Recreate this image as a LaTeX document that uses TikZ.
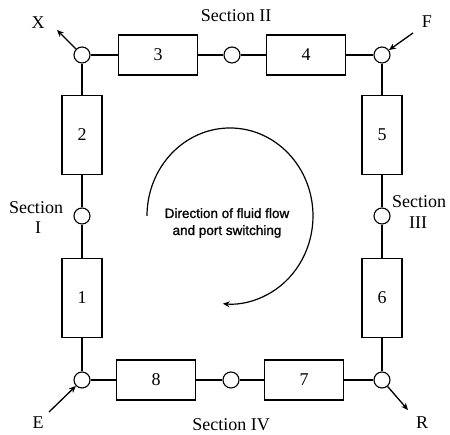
\documentclass[tikz,border=0pt]{standalone}
\usepackage{fontspec}
\setmainfont{Liberation Serif}
\newfontfamily\flowfont[FakeBold=1.2]{Liberation Sans}
\usetikzlibrary{arrows.meta}
\begin{document}
\begin{tikzpicture}[x=1pt,y=1pt,line width=1.1pt,
  port/.style={circle,draw,minimum size=16pt,inner sep=0pt},
  hbox/.style={rectangle,draw,minimum width=79pt,minimum height=40pt,inner sep=0pt,font=\fontsize{18}{20}\selectfont},
  vbox/.style={rectangle,draw,minimum width=40pt,minimum height=79pt,inner sep=0pt,font=\fontsize{18}{20}\selectfont},
  lab/.style={font=\fontsize{18}{20}\selectfont,inner sep=0pt},
  portarrow/.style={-{Stealth[length=7pt,width=6pt]},line width=1.3pt}]
\useasboundingbox (0,0) rectangle (450,435);
% ports
\node[port] (tl) at (82,380) {};
\node[port] (tm) at (232,380) {};
\node[port] (tr) at (382,380) {};
\node[port] (ml) at (82,219) {};
\node[port] (mr) at (382,219) {};
\node[port] (bl) at (82,55) {};
\node[port] (bm) at (231,55) {};
\node[port] (br) at (382,55) {};
% columns
\node[hbox] (b3) at (158,380) {3};
\node[hbox] (b4) at (306,380) {4};
\node[vbox] (b5) at (382,300) {5};
\node[vbox] (b6) at (382,137) {6};
\node[hbox] (b7) at (304,55) {7};
\node[hbox] (b8) at (156,55) {8};
\node[vbox] (b1) at (82,137) {1};
\node[vbox] (b2) at (82,300) {2};
% connections
\draw (tl) -- (b3) (b3) -- (tm) (tm) -- (b4) (b4) -- (tr);
\draw (tr) -- (b5) (b5) -- (mr) (mr) -- (b6) (b6) -- (br);
\draw (br) -- (b7) (b7) -- (bm) (bm) -- (b8) (b8) -- (bl);
\draw (bl) -- (b1) (b1) -- (ml) (ml) -- (b2) (b2) -- (tl);
% external arrows
\coordinate (xtip) at (57,405);
\coordinate (fstart) at (413,402);
\coordinate (estart) at (49,23);
\coordinate (rtip) at (408,25);
\draw[portarrow] (tl) -- (xtip);
\draw[portarrow] (fstart) -- (tr);
\draw[portarrow] (estart) -- (bl);
\draw[portarrow] (br) -- (rtip);
\node[lab] (lx) at (38,412) {X};
\node[lab] (lf) at (427,413) {F};
\node[lab] (le) at (38,12) {E};
\node[lab] (lr) at (422,12) {R};
% section labels
\node[lab] (s2) at (236,419) {Section II};
\node[lab] (s4) at (231,10) {Section IV};
\node[lab] (s1a) at (36,227) {Section};
\node[lab] (s1b) at (38,207) {I};
\node[lab] (s3a) at (419,233) {Section};
\node[lab] (s3b) at (418,212) {III};
% flow direction
\draw[-{Stealth[length=7pt,width=6pt]},line width=1.2pt] (147,219) arc[start angle=180,end angle=-95,x radius=83pt,y radius=88pt];
\node[font=\flowfont\fontsize{13.5}{17}\selectfont,align=center,inner sep=0pt] (txt) at (227,212) {Direction of fluid flow\\and port switching};
\end{tikzpicture}
\end{document}
